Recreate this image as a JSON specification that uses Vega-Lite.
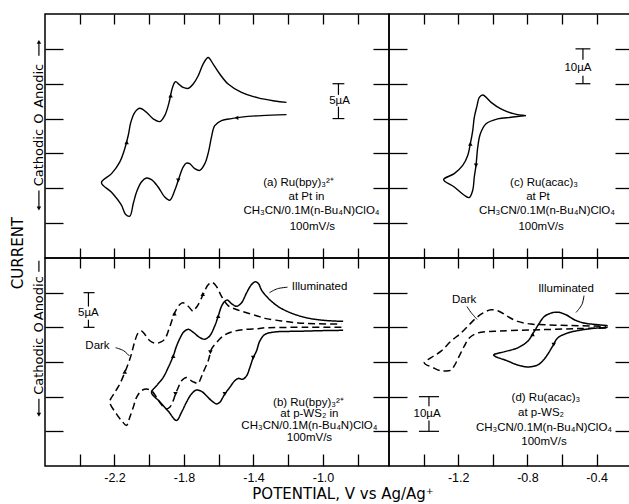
{
  "$schema": "https://vega.github.io/schema/vega-lite/v6.json",
  "padding": {"left": 10, "top": 12, "right": 0, "bottom": 0},
  "background": "white",
  "title": {"text": "POTENTIAL, V vs Ag/Ag⁺", "orient": "bottom", "anchor": "middle", "dx": 22, "fontSize": 15, "font": "DejaVu Sans", "fontWeight": "normal", "offset": 3, "color": "black"},
  "spacing": 0,
  "columns": 2,
  "bounds": "flush",
  "datasets": {
    "a_cv": [
      {"i":0,"E":-1.210,"I":0.57},{"i":1,"E":-1.354,"I":0.43},{"i":2,"E":-1.469,"I":0.21},{"i":3,"E":-1.527,"I":0.0},{"i":4,"E":-1.584,"I":-0.29},{"i":5,"E":-1.623,"I":-1.0},{"i":6,"E":-1.642,"I":-2.67},{"i":7,"E":-1.657,"I":-4.57},{"i":8,"E":-1.680,"I":-6.47},{"i":9,"E":-1.709,"I":-7.43},{"i":10,"E":-1.738,"I":-7.19},{"i":11,"E":-1.767,"I":-6.47},{"i":12,"E":-1.786,"I":-6.39},{"i":13,"E":-1.805,"I":-6.96},{"i":14,"E":-1.833,"I":-8.86},{"i":15,"E":-1.853,"I":-10.29},{"i":16,"E":-1.882,"I":-11.71},{"i":17,"E":-1.911,"I":-11.24},{"i":18,"E":-1.949,"I":-9.81},{"i":19,"E":-1.987,"I":-8.76},{"i":20,"E":-2.016,"I":-8.53},{"i":21,"E":-2.045,"I":-9.1},{"i":22,"E":-2.073,"I":-10.53},{"i":23,"E":-2.092,"I":-12.19},{"i":24,"E":-2.112,"I":-14.0},{"i":25,"E":-2.137,"I":-13.71},{"i":26,"E":-2.160,"I":-12.43},{"i":27,"E":-2.217,"I":-10.57},{"i":28,"E":-2.275,"I":-9.19},
      {"i":29,"E":-2.217,"I":-7.90},{"i":30,"E":-2.170,"I":-6.24},{"i":31,"E":-2.141,"I":-4.33},{"i":32,"E":-2.121,"I":-2.43},{"i":33,"E":-2.106,"I":-0.53},{"i":34,"E":-2.083,"I":0.90},{"i":35,"E":-2.054,"I":1.47},{"i":36,"E":-2.016,"I":0.90},{"i":37,"E":-1.977,"I":-0.04},{"i":38,"E":-1.939,"I":-0.43},{"i":39,"E":-1.911,"I":0.43},{"i":40,"E":-1.888,"I":2.10},{"i":41,"E":-1.866,"I":4.47},{"i":42,"E":-1.849,"I":5.29},{"i":43,"E":-1.824,"I":4.81},{"i":44,"E":-1.805,"I":4.47},{"i":45,"E":-1.776,"I":4.33},{"i":46,"E":-1.747,"I":4.96},{"i":47,"E":-1.718,"I":6.14},{"i":48,"E":-1.690,"I":7.81},{"i":49,"E":-1.661,"I":8.76},{"i":50,"E":-1.632,"I":7.81},{"i":51,"E":-1.594,"I":6.39},{"i":52,"E":-1.546,"I":4.96},{"i":53,"E":-1.469,"I":3.76},{"i":54,"E":-1.373,"I":2.96},{"i":55,"E":-1.277,"I":2.53},{"i":56,"E":-1.210,"I":2.33}
    ],
    "c_cv": [
      {"i":0,"E":-0.808,"I":0.86},{"i":1,"E":-0.895,"I":0.37},{"i":2,"E":-0.972,"I":-0.09},{"i":3,"E":-1.039,"I":-1.51},{"i":4,"E":-1.072,"I":-4.37},{"i":5,"E":-1.087,"I":-8.2},{"i":6,"E":-1.097,"I":-13.43},{"i":7,"E":-1.107,"I":-16.77},{"i":8,"E":-1.116,"I":-20.57},{"i":9,"E":-1.136,"I":-22.66},{"i":10,"E":-1.165,"I":-22.0},{"i":11,"E":-1.223,"I":-19.63},{"i":12,"E":-1.284,"I":-17.51},
      {"i":13,"E":-1.223,"I":-15.8},{"i":14,"E":-1.174,"I":-13.43},{"i":15,"E":-1.145,"I":-10.57},{"i":16,"E":-1.130,"I":-7.23},{"i":17,"E":-1.116,"I":-3.43},{"i":18,"E":-1.107,"I":0.37},{"i":19,"E":-1.091,"I":3.71},{"i":20,"E":-1.078,"I":6.09},{"i":21,"E":-1.058,"I":6.77},{"i":22,"E":-1.010,"I":4.66},{"i":23,"E":-0.953,"I":2.77},{"i":24,"E":-0.876,"I":1.34},{"i":25,"E":-0.808,"I":0.86}
    ],
    "b_cv": [
      {"s":"Dark","i":0,"E":-0.894,"I":0.0},{"s":"Dark","i":1,"E":-1.047,"I":0.0},{"s":"Dark","i":2,"E":-1.143,"I":0.0},{"s":"Dark","i":3,"E":-1.335,"I":-0.07},{"s":"Dark","i":4,"E":-1.373,"I":-0.19},{"s":"Dark","i":5,"E":-1.450,"I":-0.29},{"s":"Dark","i":6,"E":-1.527,"I":-0.67},{"s":"Dark","i":7,"E":-1.574,"I":-1.24},{"s":"Dark","i":8,"E":-1.613,"I":-2.19},{"s":"Dark","i":9,"E":-1.642,"I":-3.14},{"s":"Dark","i":10,"E":-1.653,"I":-4.14},{"s":"Dark","i":11,"E":-1.661,"I":-4.86},{"s":"Dark","i":12,"E":-1.690,"I":-6.53},{"s":"Dark","i":13,"E":-1.709,"I":-7.71},{"s":"Dark","i":14,"E":-1.718,"I":-8.1},{"s":"Dark","i":15,"E":-1.740,"I":-7.93},{"s":"Dark","i":16,"E":-1.757,"I":-7.71},{"s":"Dark","i":17,"E":-1.786,"I":-7.24},{"s":"Dark","i":18,"E":-1.814,"I":-7.71},{"s":"Dark","i":19,"E":-1.833,"I":-8.67},{"s":"Dark","i":20,"E":-1.849,"I":-9.61},{"s":"Dark","i":21,"E":-1.862,"I":-10.57},{"s":"Dark","i":22,"E":-1.882,"I":-11.53},{"s":"Dark","i":23,"E":-1.901,"I":-11.76},{"s":"Dark","i":24,"E":-1.930,"I":-11.14},{"s":"Dark","i":25,"E":-1.958,"I":-10.1},{"s":"Dark","i":26,"E":-1.987,"I":-9.14},{"s":"Dark","i":27,"E":-2.016,"I":-8.9},{"s":"Dark","i":28,"E":-2.045,"I":-9.14},{"s":"Dark","i":29,"E":-2.073,"I":-10.1},{"s":"Dark","i":30,"E":-2.092,"I":-11.53},{"s":"Dark","i":31,"E":-2.112,"I":-12.96},{"s":"Dark","i":32,"E":-2.131,"I":-14.14},{"s":"Dark","i":33,"E":-2.160,"I":-13.43},{"s":"Dark","i":34,"E":-2.189,"I":-12.47},{"s":"Dark","i":35,"E":-2.227,"I":-10.76},
      {"s":"Dark","i":36,"E":-2.198,"I":-9.39},{"s":"Dark","i":37,"E":-2.170,"I":-8.19},{"s":"Dark","i":38,"E":-2.141,"I":-6.53},{"s":"Dark","i":39,"E":-2.112,"I":-4.61},{"s":"Dark","i":40,"E":-2.098,"I":-3.43},{"s":"Dark","i":41,"E":-2.083,"I":-2.0},{"s":"Dark","i":42,"E":-2.064,"I":-0.81},{"s":"Dark","i":43,"E":-2.045,"I":-0.53},{"s":"Dark","i":44,"E":-2.026,"I":-1.0},{"s":"Dark","i":45,"E":-2.006,"I":-1.71},{"s":"Dark","i":46,"E":-1.984,"I":-2.14},{"s":"Dark","i":47,"E":-1.958,"I":-2.29},{"s":"Dark","i":48,"E":-1.935,"I":-2.14},{"s":"Dark","i":49,"E":-1.911,"I":-1.71},{"s":"Dark","i":50,"E":-1.883,"I":0.0},{"s":"Dark","i":51,"E":-1.853,"I":2.1},{"s":"Dark","i":52,"E":-1.824,"I":3.29},{"s":"Dark","i":53,"E":-1.805,"I":3.53},{"s":"Dark","i":54,"E":-1.776,"I":3.04},{"s":"Dark","i":55,"E":-1.747,"I":2.33},{"s":"Dark","i":56,"E":-1.734,"I":2.71},{"s":"Dark","i":57,"E":-1.718,"I":3.29},{"s":"Dark","i":58,"E":-1.690,"I":4.71},{"s":"Dark","i":59,"E":-1.661,"I":6.14},{"s":"Dark","i":60,"E":-1.638,"I":6.47},{"s":"Dark","i":61,"E":-1.613,"I":5.9},{"s":"Dark","i":62,"E":-1.584,"I":4.47},{"s":"Dark","i":63,"E":-1.546,"I":3.14},{"s":"Dark","i":64,"E":-1.498,"I":2.57},{"s":"Dark","i":65,"E":-1.440,"I":2.1},{"s":"Dark","i":66,"E":-1.373,"I":1.61},{"s":"Dark","i":67,"E":-1.335,"I":1.29},{"s":"Dark","i":68,"E":-1.239,"I":0.93},{"s":"Dark","i":69,"E":-1.143,"I":0.64},{"s":"Dark","i":70,"E":-1.047,"I":0.53},{"s":"Dark","i":71,"E":-0.894,"I":0.47},
      {"s":"Illuminated","i":0,"E":-0.884,"I":-0.43},{"s":"Illuminated","i":1,"E":-0.990,"I":-0.47},{"s":"Illuminated","i":2,"E":-1.143,"I":-0.57},{"s":"Illuminated","i":3,"E":-1.277,"I":-0.67},{"s":"Illuminated","i":4,"E":-1.335,"I":-1.04},{"s":"Illuminated","i":5,"E":-1.364,"I":-2.0},{"s":"Illuminated","i":6,"E":-1.383,"I":-3.43},{"s":"Illuminated","i":7,"E":-1.402,"I":-4.39},{"s":"Illuminated","i":8,"E":-1.421,"I":-5.81},{"s":"Illuminated","i":9,"E":-1.440,"I":-7.0},{"s":"Illuminated","i":10,"E":-1.463,"I":-7.5},{"s":"Illuminated","i":11,"E":-1.486,"I":-7.36},{"s":"Illuminated","i":12,"E":-1.508,"I":-7.71},{"s":"Illuminated","i":13,"E":-1.538,"I":-8.71},{"s":"Illuminated","i":14,"E":-1.565,"I":-9.61},{"s":"Illuminated","i":15,"E":-1.594,"I":-10.81},{"s":"Illuminated","i":16,"E":-1.613,"I":-11.04},{"s":"Illuminated","i":17,"E":-1.642,"I":-10.57},{"s":"Illuminated","i":18,"E":-1.671,"I":-9.86},{"s":"Illuminated","i":19,"E":-1.699,"I":-9.24},{"s":"Illuminated","i":20,"E":-1.728,"I":-9.04},{"s":"Illuminated","i":21,"E":-1.757,"I":-9.61},{"s":"Illuminated","i":22,"E":-1.786,"I":-10.81},{"s":"Illuminated","i":23,"E":-1.814,"I":-12.24},{"s":"Illuminated","i":24,"E":-1.843,"I":-13.43},{"s":"Illuminated","i":25,"E":-1.891,"I":-12.08},{"s":"Illuminated","i":26,"E":-1.939,"I":-10.74},{"s":"Illuminated","i":27,"E":-1.987,"I":-9.39},
      {"s":"Illuminated","i":28,"E":-1.958,"I":-8.43},{"s":"Illuminated","i":29,"E":-1.920,"I":-7.24},{"s":"Illuminated","i":30,"E":-1.891,"I":-5.81},{"s":"Illuminated","i":31,"E":-1.862,"I":-4.14},{"s":"Illuminated","i":32,"E":-1.843,"I":-2.71},{"s":"Illuminated","i":33,"E":-1.823,"I":-1.57},{"s":"Illuminated","i":34,"E":-1.803,"I":-0.71},{"s":"Illuminated","i":35,"E":-1.776,"I":-0.29},{"s":"Illuminated","i":36,"E":-1.747,"I":-0.71},{"s":"Illuminated","i":37,"E":-1.709,"I":-1.47},{"s":"Illuminated","i":38,"E":-1.680,"I":-1.71},{"s":"Illuminated","i":39,"E":-1.652,"I":-1.24},{"s":"Illuminated","i":40,"E":-1.623,"I":0.19},{"s":"Illuminated","i":41,"E":-1.603,"I":1.61},{"s":"Illuminated","i":42,"E":-1.584,"I":3.04},{"s":"Illuminated","i":43,"E":-1.565,"I":3.76},{"s":"Illuminated","i":44,"E":-1.550,"I":3.93},{"s":"Illuminated","i":45,"E":-1.527,"I":3.43},{"s":"Illuminated","i":46,"E":-1.498,"I":3.04},{"s":"Illuminated","i":47,"E":-1.469,"I":3.53},{"s":"Illuminated","i":48,"E":-1.440,"I":4.96},{"s":"Illuminated","i":49,"E":-1.412,"I":6.14},{"s":"Illuminated","i":50,"E":-1.389,"I":6.57},{"s":"Illuminated","i":51,"E":-1.371,"I":6.29},{"s":"Illuminated","i":52,"E":-1.354,"I":5.39},{"s":"Illuminated","i":53,"E":-1.315,"I":4.19},{"s":"Illuminated","i":54,"E":-1.258,"I":3.0},{"s":"Illuminated","i":55,"E":-1.181,"I":2.04},{"s":"Illuminated","i":56,"E":-1.085,"I":1.33},{"s":"Illuminated","i":57,"E":-0.990,"I":1.0},{"s":"Illuminated","i":58,"E":-0.884,"I":0.86}
    ],
    "d_cv": [
      {"s":"Dark","i":0,"E":-0.346,"I":-0.2},{"s":"Dark","i":1,"E":-0.509,"I":-0.37},{"s":"Dark","i":2,"E":-0.702,"I":-0.66},{"s":"Dark","i":3,"E":-0.895,"I":-0.94},{"s":"Dark","i":4,"E":-0.991,"I":-1.14},{"s":"Dark","i":5,"E":-1.087,"I":-1.63},{"s":"Dark","i":6,"E":-1.136,"I":-3.06},{"s":"Dark","i":7,"E":-1.165,"I":-5.43},{"s":"Dark","i":8,"E":-1.194,"I":-8.29},{"s":"Dark","i":9,"E":-1.223,"I":-11.14},{"s":"Dark","i":10,"E":-1.242,"I":-12.37},{"s":"Dark","i":11,"E":-1.280,"I":-12.57},{"s":"Dark","i":12,"E":-1.299,"I":-12.57},{"s":"Dark","i":13,"E":-1.338,"I":-11.8},{"s":"Dark","i":14,"E":-1.396,"I":-10.2},
      {"s":"Dark","i":15,"E":-1.357,"I":-8.77},{"s":"Dark","i":16,"E":-1.299,"I":-6.86},{"s":"Dark","i":17,"E":-1.242,"I":-4.0},{"s":"Dark","i":18,"E":-1.184,"I":-1.63},{"s":"Dark","i":19,"E":-1.136,"I":0.77},{"s":"Dark","i":20,"E":-1.097,"I":2.66},{"s":"Dark","i":21,"E":-1.058,"I":4.09},{"s":"Dark","i":22,"E":-1.010,"I":5.06},{"s":"Dark","i":23,"E":-0.962,"I":4.57},{"s":"Dark","i":24,"E":-0.914,"I":3.14},{"s":"Dark","i":25,"E":-0.856,"I":1.71},{"s":"Dark","i":26,"E":-0.779,"I":0.94},{"s":"Dark","i":27,"E":-0.702,"I":0.77},{"s":"Dark","i":28,"E":-0.606,"I":0.57},{"s":"Dark","i":29,"E":-0.509,"I":0.49},{"s":"Dark","i":30,"E":-0.346,"I":0.29},
      {"s":"Illuminated","i":0,"E":-0.336,"I":0.0},{"s":"Illuminated","i":1,"E":-0.432,"I":-0.37},{"s":"Illuminated","i":2,"E":-0.509,"I":-0.94},{"s":"Illuminated","i":3,"E":-0.567,"I":-1.63},{"s":"Illuminated","i":4,"E":-0.625,"I":-3.06},{"s":"Illuminated","i":5,"E":-0.654,"I":-5.43},{"s":"Illuminated","i":6,"E":-0.683,"I":-7.8},{"s":"Illuminated","i":7,"E":-0.712,"I":-9.71},{"s":"Illuminated","i":8,"E":-0.741,"I":-10.86},{"s":"Illuminated","i":9,"E":-0.798,"I":-11.43},{"s":"Illuminated","i":10,"E":-0.856,"I":-10.86},{"s":"Illuminated","i":11,"E":-0.914,"I":-9.71},{"s":"Illuminated","i":12,"E":-0.995,"I":-8.0},
      {"s":"Illuminated","i":13,"E":-0.934,"I":-7.06},{"s":"Illuminated","i":14,"E":-0.856,"I":-5.91},{"s":"Illuminated","i":15,"E":-0.798,"I":-4.0},{"s":"Illuminated","i":16,"E":-0.760,"I":-1.14},{"s":"Illuminated","i":17,"E":-0.731,"I":1.23},{"s":"Illuminated","i":18,"E":-0.702,"I":3.14},{"s":"Illuminated","i":19,"E":-0.664,"I":4.09},{"s":"Illuminated","i":20,"E":-0.625,"I":4.37},{"s":"Illuminated","i":21,"E":-0.577,"I":3.63},{"s":"Illuminated","i":22,"E":-0.529,"I":2.2},{"s":"Illuminated","i":23,"E":-0.471,"I":1.23},{"s":"Illuminated","i":24,"E":-0.394,"I":0.77},{"s":"Illuminated","i":25,"E":-0.336,"I":0.49}
    ]
  },
  "concat": [
    {
      "width": 344, "height": 244,
      "resolve": {"axis": {"x": "independent", "y": "independent"}},
      "layer": [
        {
          "data": {"name": "a_cv"},
          "mark": {"type": "line", "interpolate": "catmull-rom", "strokeWidth": 1.4, "color": "black"},
          "encoding": {
            "x": {"field": "E", "type": "quantitative", "scale": {"domain": [-2.6, -0.62], "nice": false, "zero": false}, "axis": {"orient": "bottom", "values": [-2.4,-2.2,-2.0,-1.8,-1.6,-1.4,-1.2,-1.0,-0.8], "tickSize": -10, "labels": false, "title": null}},
            "y": {"field": "I", "type": "quantitative", "scale": {"domain": [-20, 15], "nice": false, "zero": false}, "axis": {"orient": "left", "values": [-15,-10,-5,0,5,10], "tickSize": -18, "labels": false, "title": null}},
            "order": {"field": "i", "type": "quantitative"}
          }
        },
        {
          "data": {"values": [{"E":-2.13,"I":-3.4,"dir":"up"},{"E":-1.877,"I":3.3,"dir":"up"},{"E":-1.498,"I":0.1,"dir":"left"},{"E":-1.833,"I":-8.86,"dir":"down"},{"E":-2.635,"I":11.0,"dir":"up"},{"E":-2.635,"I":-12.9,"dir":"down"}]},
          "mark": {"type": "point", "filled": true, "color": "black", "size": 20, "opacity": 1},
          "encoding": {
            "x": {"field": "E", "type": "quantitative", "scale": {"domain": [-2.6, -0.62], "nice": false, "zero": false}, "axis": {"orient": "top", "values": [-2.4,-2.2,-2.0,-1.8,-1.6,-1.4,-1.2,-1.0,-0.8], "tickSize": -10, "labels": false, "title": null}},
            "y": {"field": "I", "type": "quantitative", "scale": {"domain": [-20, 15], "nice": false, "zero": false}, "axis": {"orient": "right", "values": [-15,-10,-5,0,5,10], "tickSize": -16, "labels": false, "title": null}},
            "shape": {"field": "dir", "type": "nominal", "scale": {"domain": ["up","down","left"], "range": ["triangle-up","triangle-down","triangle-left"]}, "legend": null}
          }
        },
        {
          "data": {"values": [{"t":"(a) Ru(bpy)₃²⁺","E":-1.141,"I":-9.29},{"t":"at Pt in","E":-1.095,"I":-11.29},{"t":"CH₃CN/0.1M(n-Bu₄N)ClO₄","E":-1.066,"I":-13.29},{"t":"100mV/s","E":-1.061,"I":-15.57},{"t":"5µA","E":-0.905,"I":2.57}]},
          "mark": {"type": "text", "fontSize": 11.5, "font": "Liberation Sans", "color": "black"},
          "encoding": {
            "x": {"field": "E", "type": "quantitative", "scale": {"domain": [-2.6, -0.62], "nice": false, "zero": false}, "axis": null},
            "y": {"field": "I", "type": "quantitative", "scale": {"domain": [-20, 15], "nice": false, "zero": false}, "axis": null},
            "text": {"field": "t"}
          }
        },
        {
          "data": {"values": [{"t":"Anodic","E":-2.635,"I":4.7},{"t":"O","E":-2.635,"I":0},{"t":"Cathodic","E":-2.635,"I":-5.6}]},
          "mark": {"type": "text", "fontSize": 13, "font": "DejaVu Sans", "angle": 270, "color": "black"},
          "encoding": {
            "x": {"field": "E", "type": "quantitative", "scale": {"domain": [-2.6, -0.62], "nice": false, "zero": false}, "axis": null},
            "y": {"field": "I", "type": "quantitative", "scale": {"domain": [-20, 15], "nice": false, "zero": false}, "axis": null},
            "text": {"field": "t"}
          }
        },
        {
          "data": {"values": [{"t":"CURRENT","E":-2.753,"I":-19.29}]},
          "mark": {"type": "text", "fontSize": 15, "font": "DejaVu Sans", "angle": 270, "color": "black"},
          "encoding": {
            "x": {"field": "E", "type": "quantitative", "scale": {"domain": [-2.6, -0.62], "nice": false, "zero": false}, "axis": null},
            "y": {"field": "I", "type": "quantitative", "scale": {"domain": [-20, 15], "nice": false, "zero": false}, "axis": null},
            "text": {"field": "t"}
          }
        },
        {
          "data": {"values": [{"E":-0.911,"E2":-0.911,"I":5,"I2":3.4},{"E":-0.911,"E2":-0.911,"I":1.7,"I2":0},{"E":-0.945,"E2":-0.877,"I":5,"I2":5},{"E":-0.945,"E2":-0.877,"I":0,"I2":0},{"E":-2.635,"E2":-2.635,"I":9.0,"I2":10.8},{"E":-2.635,"E2":-2.635,"I":-10.3,"I2":-12.7}]},
          "mark": {"type": "rule", "strokeWidth": 1.2, "color": "black"},
          "encoding": {
            "x": {"field": "E", "type": "quantitative", "scale": {"domain": [-2.6, -0.62], "nice": false, "zero": false}, "axis": null},
            "x2": {"field": "E2"},
            "y": {"field": "I", "type": "quantitative", "scale": {"domain": [-20, 15], "nice": false, "zero": false}, "axis": null},
            "y2": {"field": "I2"}
          }
        }
      ]
    },
    {
      "width": 241, "height": 244,
      "resolve": {"axis": {"x": "independent", "y": "independent"}},
      "layer": [
        {
          "data": {"name": "c_cv"},
          "mark": {"type": "line", "interpolate": "catmull-rom", "strokeWidth": 1.4, "color": "black"},
          "encoding": {
            "x": {"field": "E", "type": "quantitative", "scale": {"domain": [-1.6, -0.207], "nice": false, "zero": false}, "axis": {"orient": "bottom", "values": [-1.4,-1.2,-1.0,-0.8,-0.6,-0.4], "tickSize": -10, "labels": false, "title": null}},
            "y": {"field": "I", "type": "quantitative", "scale": {"domain": [-40, 30], "nice": false, "zero": false}, "axis": {"orient": "left", "values": [-30,-20,-10,0,10,20], "tickSize": -18, "labels": false, "title": null}},
            "order": {"field": "i", "type": "quantitative"}
          }
        },
        {
          "data": {"values": [{"E":-1.130,"I":-7.23,"dir":"up"},{"E":-1.097,"I":-13.43,"dir":"down"}]},
          "mark": {"type": "point", "filled": true, "color": "black", "size": 20, "opacity": 1},
          "encoding": {
            "x": {"field": "E", "type": "quantitative", "scale": {"domain": [-1.6, -0.207], "nice": false, "zero": false}, "axis": {"orient": "top", "values": [-1.4,-1.2,-1.0,-0.8,-0.6,-0.4], "tickSize": -10, "labels": false, "title": null}},
            "y": {"field": "I", "type": "quantitative", "scale": {"domain": [-40, 30], "nice": false, "zero": false}, "axis": {"orient": "right", "values": [-30,-20,-10,0,10,20], "tickSize": -15, "labels": false, "title": null}},
            "shape": {"field": "dir", "type": "nominal", "scale": {"domain": ["up","down","left"], "range": ["triangle-up","triangle-down","triangle-left"]}, "legend": null}
          }
        },
        {
          "data": {"values": [{"t":"(c) Ru(acac)₃","E":-0.704,"I":-18.57},{"t":"at Pt","E":-0.739,"I":-22.57},{"t":"CH₃CN/0.1M(n-Bu₄N)ClO₄","E":-0.687,"I":-26.57},{"t":"100mV/s","E":-0.721,"I":-31.14},{"t":"10µA","E":-0.508,"I":14.57}]},
          "mark": {"type": "text", "fontSize": 11.5, "font": "Liberation Sans", "color": "black"},
          "encoding": {
            "x": {"field": "E", "type": "quantitative", "scale": {"domain": [-1.6, -0.207], "nice": false, "zero": false}, "axis": null},
            "y": {"field": "I", "type": "quantitative", "scale": {"domain": [-40, 30], "nice": false, "zero": false}, "axis": null},
            "text": {"field": "t"}
          }
        },
        {
          "data": {"values": [{"E":-0.479,"E2":-0.479,"I":20,"I2":16.9},{"E":-0.479,"E2":-0.479,"I":12.3,"I2":10},{"E":-0.522,"E2":-0.436,"I":20,"I2":20},{"E":-0.522,"E2":-0.436,"I":10,"I2":10}]},
          "mark": {"type": "rule", "strokeWidth": 1.2, "color": "black"},
          "encoding": {
            "x": {"field": "E", "type": "quantitative", "scale": {"domain": [-1.6, -0.207], "nice": false, "zero": false}, "axis": null},
            "x2": {"field": "E2"},
            "y": {"field": "I", "type": "quantitative", "scale": {"domain": [-40, 30], "nice": false, "zero": false}, "axis": null},
            "y2": {"field": "I2"}
          }
        }
      ]
    },
    {
      "width": 344, "height": 208,
      "resolve": {"axis": {"x": "independent", "y": "independent"}},
      "layer": [
        {
          "data": {"name": "b_cv"},
          "mark": {"type": "line", "interpolate": "catmull-rom", "strokeWidth": 1.5, "color": "black"},
          "encoding": {
            "x": {"field": "E", "type": "quantitative", "scale": {"domain": [-2.6, -0.62], "nice": false, "zero": false}, "axis": {"orient": "bottom", "values": [-2.4,-2.2,-2.0,-1.8,-1.6,-1.4,-1.2,-1.0,-0.8], "tickSize": -12, "labels": true, "labelPadding": 17, "labelFontSize": 12.5, "labelExpr": "round(datum.value*10) % 4 == -2 ? '-' + format(abs(datum.value), '.1f') : ''", "title": null}},
            "y": {"field": "I", "type": "quantitative", "scale": {"domain": [-20, 10], "nice": false, "zero": false}, "axis": {"orient": "left", "values": [-15,-10,-5,0,5], "tickSize": -18, "labels": false, "title": null}},
            "order": {"field": "i", "type": "quantitative"},
            "detail": {"field": "s"},
            "strokeDash": {"field": "s", "type": "nominal", "scale": {"domain": ["Illuminated", "Dark"], "range": [[1, 0], [7, 4]]}, "legend": null}
          }
        },
        {
          "data": {"values": [{"E":-2.141,"I":-6.4,"dir":"up"},{"E":-1.855,"I":2.0,"dir":"up"},{"E":-1.692,"I":4.8,"dir":"up"},{"E":-1.648,"I":-3.6,"dir":"down"},{"E":-1.849,"I":-9.61,"dir":"down"},{"E":-1.862,"I":-4.14,"dir":"up"},{"E":-1.603,"I":1.61,"dir":"up"},{"E":-1.402,"I":-4.39,"dir":"down"},{"E":-1.565,"I":-9.61,"dir":"down"},{"E":-2.635,"I":-12.6,"dir":"down"}]},
          "mark": {"type": "point", "filled": true, "color": "black", "size": 20, "opacity": 1},
          "encoding": {
            "x": {"field": "E", "type": "quantitative", "scale": {"domain": [-2.6, -0.62], "nice": false, "zero": false}, "axis": {"orient": "top", "values": [-2.4,-2.2,-2.0,-1.8,-1.6,-1.4,-1.2,-1.0,-0.8], "tickSize": -10, "labels": false, "title": null}},
            "y": {"field": "I", "type": "quantitative", "scale": {"domain": [-20, 10], "nice": false, "zero": false}, "axis": {"orient": "right", "values": [-15,-10,-5,0,5], "tickSize": -16, "labels": false, "title": null}},
            "shape": {"field": "dir", "type": "nominal", "scale": {"domain": ["up","down","left"], "range": ["triangle-up","triangle-down","triangle-left"]}, "legend": null}
          }
        },
        {
          "data": {"values": [{"t":"(b) Ru(bpy)₃²⁺","E":-1.084,"I":-10.86},{"t":"at p-WS₂ in","E":-1.078,"I":-12.57},{"t":"CH₃CN/0.1M(n-Bu₄N)ClO₄","E":-1.078,"I":-14.29},{"t":"100mV/s","E":-1.078,"I":-16.0},{"t":"5µA","E":-2.35,"I":2.04},{"t":"Dark","E":-2.298,"I":-2.71},{"t":"Illuminated","E":-1.02,"I":5.86}]},
          "mark": {"type": "text", "fontSize": 11.5, "font": "Liberation Sans", "color": "black"},
          "encoding": {
            "x": {"field": "E", "type": "quantitative", "scale": {"domain": [-2.6, -0.62], "nice": false, "zero": false}, "axis": null},
            "y": {"field": "I", "type": "quantitative", "scale": {"domain": [-20, 10], "nice": false, "zero": false}, "axis": null},
            "text": {"field": "t"}
          }
        },
        {
          "data": {"values": [{"t":"Anodic","E":-2.635,"I":4.2},{"t":"O","E":-2.635,"I":0},{"t":"Cathodic","E":-2.635,"I":-5.6}]},
          "mark": {"type": "text", "fontSize": 13, "font": "DejaVu Sans", "angle": 270, "color": "black"},
          "encoding": {
            "x": {"field": "E", "type": "quantitative", "scale": {"domain": [-2.6, -0.62], "nice": false, "zero": false}, "axis": null},
            "y": {"field": "I", "type": "quantitative", "scale": {"domain": [-20, 10], "nice": false, "zero": false}, "axis": null},
            "text": {"field": "t"}
          }
        },
        {
          "data": {"values": [{"E":-2.35,"E2":-2.35,"I":5,"I2":3.0},{"E":-2.35,"E2":-2.35,"I":1.1,"I2":0},{"E":-2.378,"E2":-2.315,"I":5,"I2":5},{"E":-2.378,"E2":-2.315,"I":0,"I2":0},{"E":-2.635,"E2":-2.635,"I":8.0,"I2":9.6},{"E":-2.635,"E2":-2.635,"I":-10.3,"I2":-12.4}]},
          "mark": {"type": "rule", "strokeWidth": 1.2, "color": "black"},
          "encoding": {
            "x": {"field": "E", "type": "quantitative", "scale": {"domain": [-2.6, -0.62], "nice": false, "zero": false}, "axis": null},
            "x2": {"field": "E2"},
            "y": {"field": "I", "type": "quantitative", "scale": {"domain": [-20, 10], "nice": false, "zero": false}, "axis": null},
            "y2": {"field": "I2"}
          }
        },
        {
          "data": {"values": [{"g":1,"i":0,"E":-2.194,"I":-2.93},{"g":1,"i":1,"E":-2.148,"I":-3.36},{"g":1,"i":2,"E":-2.114,"I":-4.14},{"g":2,"i":0,"E":-1.204,"I":5.79},{"g":2,"i":1,"E":-1.262,"I":5.57},{"g":2,"i":2,"E":-1.308,"I":5.0}]},
          "mark": {"type": "line", "interpolate": "cardinal", "strokeWidth": 1, "color": "black"},
          "encoding": {
            "x": {"field": "E", "type": "quantitative", "scale": {"domain": [-2.6, -0.62], "nice": false, "zero": false}, "axis": null},
            "y": {"field": "I", "type": "quantitative", "scale": {"domain": [-20, 10], "nice": false, "zero": false}, "axis": null},
            "detail": {"field": "g"},
            "order": {"field": "i", "type": "quantitative"}
          }
        }
      ]
    },
    {
      "width": 241, "height": 208,
      "resolve": {"axis": {"x": "independent", "y": "independent"}},
      "layer": [
        {
          "data": {"name": "d_cv"},
          "mark": {"type": "line", "interpolate": "catmull-rom", "strokeWidth": 1.5, "color": "black"},
          "encoding": {
            "x": {"field": "E", "type": "quantitative", "scale": {"domain": [-1.6, -0.207], "nice": false, "zero": false}, "axis": {"orient": "bottom", "values": [-1.4,-1.2,-1.0,-0.8,-0.6,-0.4], "tickSize": -12, "labels": true, "labelPadding": 17, "labelFontSize": 12.5, "labelExpr": "round(datum.value*10) % 4 == 0 ? '-' + format(abs(datum.value), '.1f') : ''", "title": null}},
            "y": {"field": "I", "type": "quantitative", "scale": {"domain": [-40, 20], "nice": false, "zero": false}, "axis": {"orient": "left", "values": [-30,-20,-10,0,10], "tickSize": -18, "labels": false, "title": null}},
            "order": {"field": "i", "type": "quantitative"},
            "detail": {"field": "s"},
            "strokeDash": {"field": "s", "type": "nominal", "scale": {"domain": ["Illuminated", "Dark"], "range": [[1, 0], [7, 4]]}, "legend": null}
          }
        },
        {
          "data": {"values": [{"E":-0.77,"I":-2.0,"dir":"up"},{"E":-0.648,"I":-5.0,"dir":"down"}]},
          "mark": {"type": "point", "filled": true, "color": "black", "size": 20, "opacity": 1},
          "encoding": {
            "x": {"field": "E", "type": "quantitative", "scale": {"domain": [-1.6, -0.207], "nice": false, "zero": false}, "axis": {"orient": "top", "values": [-1.4,-1.2,-1.0,-0.8,-0.6,-0.4], "tickSize": -10, "labels": false, "title": null}},
            "y": {"field": "I", "type": "quantitative", "scale": {"domain": [-40, 20], "nice": false, "zero": false}, "axis": {"orient": "right", "values": [-30,-20,-10,0,10], "tickSize": -15, "labels": false, "title": null}},
            "shape": {"field": "dir", "type": "nominal", "scale": {"domain": ["up","down","left"], "range": ["triangle-up","triangle-down","triangle-left"]}, "legend": null}
          }
        },
        {
          "data": {"values": [{"t":"(d) Ru(acac)₃","E":-0.693,"I":-20.29},{"t":"at p-WS₂","E":-0.721,"I":-24.57},{"t":"CH₃CN/0.1M(n-Bu₄N)ClO₄","E":-0.704,"I":-29.14},{"t":"100mV/s","E":-0.704,"I":-33.14},{"t":"10µA","E":-1.380,"I":-24.86},{"t":"Dark","E":-1.166,"I":8.0},{"t":"Illuminated","E":-0.577,"I":11.14}]},
          "mark": {"type": "text", "fontSize": 11.5, "font": "Liberation Sans", "color": "black"},
          "encoding": {
            "x": {"field": "E", "type": "quantitative", "scale": {"domain": [-1.6, -0.207], "nice": false, "zero": false}, "axis": null},
            "y": {"field": "I", "type": "quantitative", "scale": {"domain": [-40, 20], "nice": false, "zero": false}, "axis": null},
            "text": {"field": "t"}
          }
        },
        {
          "data": {"values": [{"E":-1.369,"E2":-1.369,"I":-20,"I2":-22.8},{"E":-1.369,"E2":-1.369,"I":-26.9,"I2":-30},{"E":-1.427,"E2":-1.311,"I":-20,"I2":-20},{"E":-1.427,"E2":-1.311,"I":-30,"I2":-30}]},
          "mark": {"type": "rule", "strokeWidth": 1.2, "color": "black"},
          "encoding": {
            "x": {"field": "E", "type": "quantitative", "scale": {"domain": [-1.6, -0.207], "nice": false, "zero": false}, "axis": null},
            "x2": {"field": "E2"},
            "y": {"field": "I", "type": "quantitative", "scale": {"domain": [-40, 20], "nice": false, "zero": false}, "axis": null},
            "y2": {"field": "I2"}
          }
        },
        {
          "data": {"values": [{"g":1,"i":0,"E":-1.149,"I":6.0},{"g":1,"i":1,"E":-1.126,"I":4.29},{"g":1,"i":2,"E":-1.091,"I":2.29},{"g":2,"i":0,"E":-0.473,"I":9.14},{"g":2,"i":1,"E":-0.485,"I":6.57},{"g":2,"i":2,"E":-0.519,"I":4.29}]},
          "mark": {"type": "line", "interpolate": "cardinal", "strokeWidth": 1, "color": "black"},
          "encoding": {
            "x": {"field": "E", "type": "quantitative", "scale": {"domain": [-1.6, -0.207], "nice": false, "zero": false}, "axis": null},
            "y": {"field": "I", "type": "quantitative", "scale": {"domain": [-40, 20], "nice": false, "zero": false}, "axis": null},
            "detail": {"field": "g"},
            "order": {"field": "i", "type": "quantitative"}
          }
        }
      ]
    }
  ],
  "config": {
    "view": {"stroke": "black", "strokeWidth": 1.5},
    "axis": {"domain": false, "grid": false, "tickColor": "black", "tickWidth": 1.3, "labelFont": "Liberation Sans", "labelColor": "black"},
    "concat": {"spacing": 0}
  }
}
